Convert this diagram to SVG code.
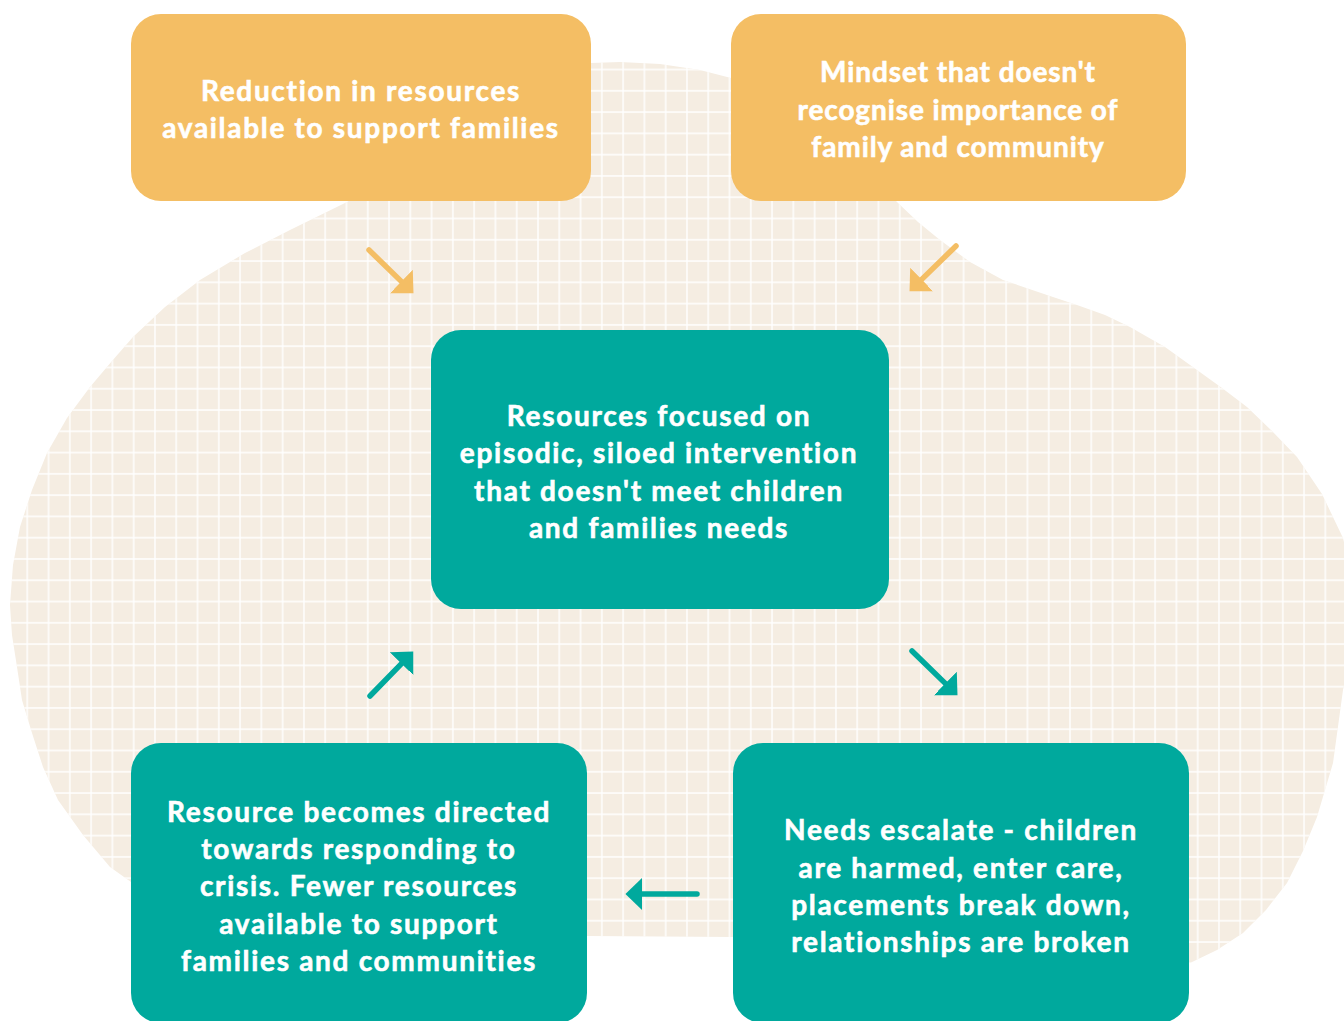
<svg xmlns="http://www.w3.org/2000/svg" width="1344" height="1021" viewBox="0 0 1344 1021">
  <style>
    .orange { fill: #F4BE64; }
    .teal { fill: #00A99D; }
    .label { font-family: "Lato", "Liberation Sans", sans-serif; font-weight: 700; font-size: 28px; letter-spacing: 1.7px; fill: #FFFFFF; stroke: #FFFFFF; stroke-width: 0.6; text-anchor: middle; }
    .tight { letter-spacing: 0.9px; }
    .conn { fill: none; stroke-width: 5.5; stroke-linecap: round; }
    .co { stroke: #F4BE64; marker-end: url(#ahO); }
    .ct { stroke: #00A99D; marker-end: url(#ahT); }
  </style>
  <defs>
    <pattern id="grid" patternUnits="userSpaceOnUse" x="-4.64" y="-4.94" width="21.28" height="21.28">
      <path d="M10.64 0 V21.28 M0 10.64 H21.28" stroke="#FFFFFF" stroke-width="1.4" fill="none"/>
    </pattern>
    <marker id="ahO" markerUnits="userSpaceOnUse" markerWidth="18" markerHeight="34" viewBox="0 -16 17 32" refX="6" refY="0" orient="auto">
      <path d="M0,-15.5 L16,0 L0,15.5 Z" fill="#F4BE64"/>
    </marker>
    <marker id="ahT" markerUnits="userSpaceOnUse" markerWidth="18" markerHeight="34" viewBox="0 -16 17 32" refX="6" refY="0" orient="auto">
      <path d="M0,-15.5 L16,0 L0,15.5 Z" fill="#00A99D"/>
    </marker>
  </defs>

  <rect width="1344" height="1021" fill="#FFFFFF"/>

  <g id="background">
    <path id="blob" d="M10,605 L13,565 L20,527 L32,490 L47,453 L67,418 L90,387 L112,361 L133,337 L165,307 L200,280 L245,253 L290,230 L347,202 L420,160 L500,110 L560,75 L591,63 L620,62 L660,64 L700,70 L731,78 L800,110 L860,160 L897,202 L918,222 L940,240 L970,262 L1003,280 L1047,295 L1077,305 L1105,315 L1130,327 L1165,347 L1197,370 L1222,388 L1247,407 L1272,431 L1297,457 L1322,494 L1343,538 L1360,610 L1343,690 L1333,763 L1317,817 L1303,851 L1287,883 L1266,910 L1243,933 L1217,950 L1190,963 L1100,965 L900,950 L733,937 L587,936 L400,925 L200,900 L131,882 L110,867 L83,835 L58,800 L43,767 L32,733 L22,700 L17,667 L12,635 Z" fill="#F5EDE2"/>
    <path d="M10,605 L13,565 L20,527 L32,490 L47,453 L67,418 L90,387 L112,361 L133,337 L165,307 L200,280 L245,253 L290,230 L347,202 L420,160 L500,110 L560,75 L591,63 L620,62 L660,64 L700,70 L731,78 L800,110 L860,160 L897,202 L918,222 L940,240 L970,262 L1003,280 L1047,295 L1077,305 L1105,315 L1130,327 L1165,347 L1197,370 L1222,388 L1247,407 L1272,431 L1297,457 L1322,494 L1343,538 L1360,610 L1343,690 L1333,763 L1317,817 L1303,851 L1287,883 L1266,910 L1243,933 L1217,950 L1190,963 L1100,965 L900,950 L733,937 L587,936 L400,925 L200,900 L131,882 L110,867 L83,835 L58,800 L43,767 L32,733 L22,700 L17,667 L12,635 Z" fill="url(#grid)"/>
  </g>

  <g id="connectors">
    <line class="conn co" x1="369" y1="250" x2="405.9" y2="285.9"/>
    <line class="conn co" x1="956" y1="246" x2="917.1" y2="283.9"/>
    <line class="conn ct" x1="912" y1="651" x2="949.9" y2="687.9"/>
    <line class="conn ct" x1="370" y1="696" x2="405.9" y2="659.1"/>
    <line class="conn ct" x1="697" y1="894" x2="636" y2="894"/>
  </g>

  <g id="node-reduction">
    <rect class="orange" x="131" y="14" width="460" height="187" rx="30"/>
    <text class="label" x="361" y="101">Reduction in resources</text>
    <text class="label" x="361" y="138">available to support families</text>
  </g>

  <g id="node-mindset">
    <rect class="orange" x="731" y="14" width="455" height="187" rx="30"/>
    <text class="label tight" x="958" y="82">Mindset that doesn't</text>
    <text class="label tight" x="958" y="120">recognise importance of</text>
    <text class="label tight" x="958" y="157">family and community</text>
  </g>

  <g id="node-focused">
    <rect class="teal" x="431" y="330" width="458" height="279" rx="30"/>
    <text class="label" x="659" y="426">Resources focused on</text>
    <text class="label" x="659" y="463">episodic, siloed intervention</text>
    <text class="label" x="659" y="501">that doesn't meet children</text>
    <text class="label" x="659" y="538">and families needs</text>
  </g>

  <g id="node-escalate">
    <rect class="teal" x="733" y="743" width="456" height="280" rx="30"/>
    <text class="label" x="961" y="840">Needs escalate - children</text>
    <text class="label" x="961" y="878">are harmed, enter care,</text>
    <text class="label" x="961" y="915">placements break down,</text>
    <text class="label" x="961" y="952">relationships are broken</text>
  </g>

  <g id="node-crisis">
    <rect class="teal" x="131" y="743" width="456" height="280" rx="30"/>
    <text class="label" x="359" y="822">Resource becomes directed</text>
    <text class="label" x="359" y="859">towards responding to</text>
    <text class="label" x="359" y="896">crisis. Fewer resources</text>
    <text class="label" x="359" y="934">available to support</text>
    <text class="label" x="359" y="971">families and communities</text>
  </g>
</svg>
